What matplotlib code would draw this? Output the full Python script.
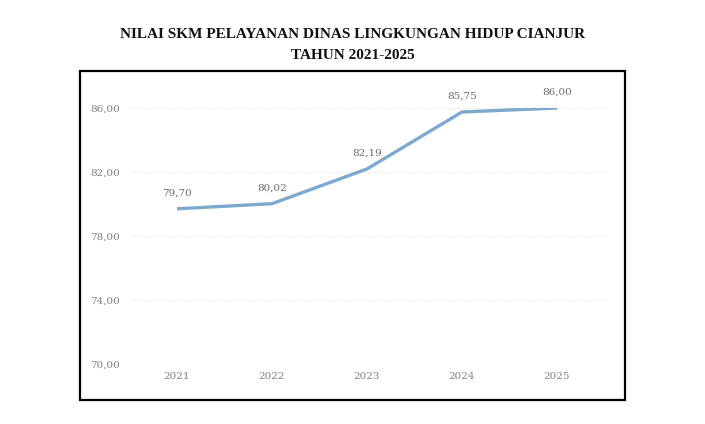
import matplotlib
matplotlib.use("Agg")
import matplotlib.pyplot as plt
from matplotlib.patches import Rectangle

years = ["2021", "2022", "2023", "2024", "2025"]
values = [79.70, 80.02, 82.19, 85.75, 86.00]
yticks = [70, 74, 78, 82, 86]
title = "NILAI SKM PELAYANAN DINAS LINGKUNGAN HIDUP CIANJUR\nTAHUN 2021-2025"

W, H = 705, 424
fig = plt.figure(figsize=(W / 100, H / 100), dpi=100)

# outer box
fig.patches.append(Rectangle((80 / W, 1 - 400 / H), (625 - 80) / W, (400 - 71) / H,
                             transform=fig.transFigure, fill=False,
                             edgecolor="black", linewidth=1.6))

fig.text(0.5, 1 - 45 / H, title, ha="center", va="center", fontsize=11,
         fontweight="bold", family="Liberation Serif", linespacing=1.75, color="#111111")

left, right, top, bottom = 129.5, 604.5, 108, 364
ax = fig.add_axes([left / W, 1 - bottom / H, (right - left) / W, (bottom - top) / H])
x = list(range(len(years)))
ax.plot(x, values, color="#7DA9CE", linewidth=2.4, solid_capstyle="butt", zorder=3)
for xi, v in zip(x, values):
    ax.annotate(f"{v:.2f}".replace(".", ","), (xi, v), xytext=(0, 8),
                textcoords="offset points", ha="center", va="bottom",
                fontsize=7.5, color="#6A6A6A", family="DejaVu Serif")

ax.set_xlim(-0.5, len(years) - 0.5)
ax.set_ylim(70, 86)
ax.set_yticks(yticks)
ax.set_yticklabels([f"{t:.2f}".replace(".", ",") for t in yticks])
ax.set_xticks(x)
ax.set_xticklabels(years)
for lab in ax.get_xticklabels() + ax.get_yticklabels():
    lab.set_family("DejaVu Serif")
    lab.set_fontsize(7.5)
    lab.set_color("#808080")
ax.tick_params(length=0)
ax.tick_params(axis="y", pad=7)
ax.tick_params(axis="x", pad=6)
ax.grid(axis="y", color="#E6E6E6", linewidth=0.8, linestyle=(0, (1, 1)))
ax.set_axisbelow(True)
for s in ax.spines.values():
    s.set_visible(False)

fig.savefig("out.png", dpi=100)
